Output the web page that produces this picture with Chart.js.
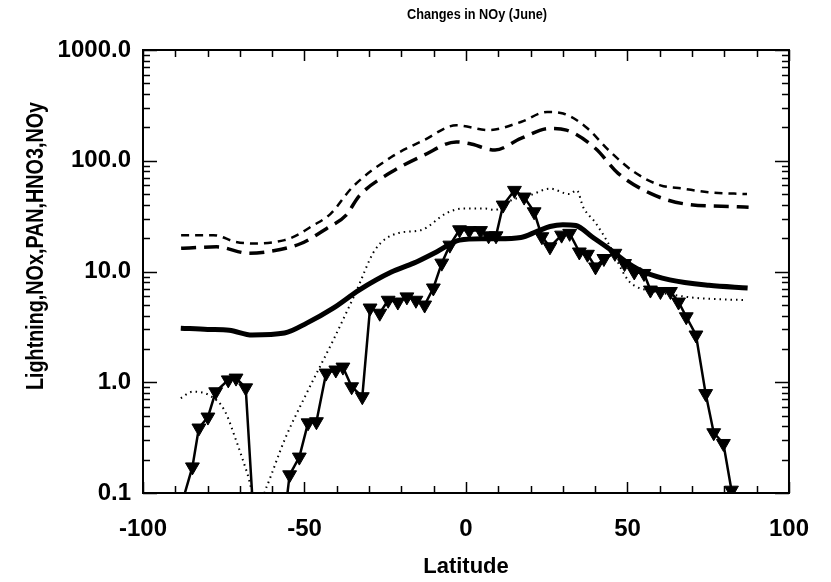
<!DOCTYPE html>
<html>
<head>
<meta charset="utf-8">
<script src="https://cdn.jsdelivr.net/npm/chart.js@4.4.1/dist/chart.umd.min.js"></script>
<style>
  html, body { margin: 0; padding: 0; background: #fff; }
  canvas { display: block; }
</style>
</head>
<body>
<canvas id="chart" width="831" height="582"></canvas>
<script>
// values (latitude, mixing ratio change)
const triLat = [-88.0, -84.7, -82.7, -79.9, -77.5, -73.6, -71.2, -68.2, -65.4, -62.5, -59.6, -57.4,
    -54.6, -51.6, -48.9, -46.3, -43.3, -40.3, -38.1, -35.4, -32.1, -29.7, -26.7, -24.1, -21.1,
    -18.3, -15.5, -12.8, -10.1, -7.5, -5.0, -2.0, 1.0, 4.5, 7.0, 9.3, 11.5, 15.0, 18.0, 21.1,
    23.5, 26.0, 29.6, 32.1, 35.1, 37.6, 40.1, 42.7, 46.1, 49.1, 52.1, 55.1, 57.1, 60.2, 63.3,
    65.8, 68.2, 71.2, 74.2, 76.7, 79.7, 82.2];
const triVal = [0.08, 0.172, 0.386, 0.485, 0.82, 1.05, 1.09, 0.89, 0.04, 0.02, 0.02, 0.03,
    0.146, 0.211, 0.43, 0.44, 1.21, 1.29, 1.37, 0.91, 0.74, 4.68, 4.2, 5.5, 5.3,
    5.9, 5.5, 4.98, 7.1, 11.9, 17.3, 23.8, 23.4, 23.4, 21, 21, 39.8, 54, 47, 34.6,
    20.6, 16.7, 21.3, 22.1, 15, 14.3, 11, 13.1, 14.6, 11.8, 9.9, 9.6, 6.8, 6.6, 6.6,
    5.3, 3.9, 2.67, 0.79, 0.35, 0.28, 0.106];

const solidLat = [-88.3, -80, -73.3, -66.2, -56.2, -49.3, -41.1, -33.1, -23.1, -16.2, -9.0, -2.0,
    4.9, 10, 17, 22, 26, 30, 34, 39, 44, 50, 55.1, 63.1, 75.2, 87.2];
const solidVal = [3.08, 3.0, 2.95, 2.67, 2.78, 3.42, 4.67, 6.8, 9.9, 11.9, 15.1, 19.2,
    19.8, 19.8, 20.3, 23, 25.5, 26.5, 26, 20.6, 16.3, 12, 9.9, 8.4, 7.5, 7.1];

const dotLat = [-88.3, -84.7, -79.7, -74.8, -71.2, -67.7, -64.5, -61.7, -56.2, -49.3, -41.1, -34.2,
    -28.2, -21.1, -14.0, -6.0, -1.1, 6, 9, 14, 20, 26, 32, 34.3, 36.3, 40.1, 44.1, 50.1, 53.1,
    56, 62, 70.5, 87];
const dotVal = [0.72, 0.82, 0.77, 0.56, 0.30, 0.15, 0.075, 0.114, 0.30, 0.80, 2.4, 6.4,
    15.6, 22.2, 23.6, 33.7, 37, 37, 36, 44, 49, 56, 50, 54, 38, 27.5, 17.9, 8.4, 7.2,
    6.8, 6.3, 5.8, 5.5];

const shortLat = [-88.2, -78.2, -71.2, -65.2, -56.2, -52, -48.1, -42, -35.1, -23.1, -13.1, -3.0,
    7.0, 17.0, 25.1, 30.1, 37.1, 44.1, 52.1, 60.2, 67.2, 75, 87];
const shortVal = [21.3, 21.3, 18.5, 17.9, 19.2, 21.5, 25.3, 33, 58, 108, 153, 209,
    189, 224, 276, 267, 202, 125, 79, 60, 56, 52, 50];

const longLat = [-88.2, -77.2, -67.2, -61.2, -51.1, -43.1, -37.1, -33.1, -23.1, -13.1, -3.0, 1.0,
    9.0, 17.0, 26.0, 31.1, 40.1, 47.1, 57.1, 67.2, 84.2, 87.5];
const longVal = [16.2, 16.7, 14.6, 15.1, 17.9, 24.5, 32.3, 48, 79, 112, 148, 143,
    125, 159, 196, 189, 129, 77, 50.7, 41, 38.4, 38];

const xTickValues = [-100, -50, 0, 50, 100];
const yTickValues = [0.1, 1, 10, 100, 1000];
const yTickLabels = ['0.1', '1.0', '10.0', '100.0', '1000.0'];

const FONT = "'Liberation Sans', Arial, sans-serif";

const pts = (xs, ys) => xs.map((x, i) => ({ x: x, y: ys[i] }));

// draw text squeezed to a given width (the original uses a narrow face)
function narrowText(ctx, text, cx, cy, width) {
    const w = ctx.measureText(text).width;
    ctx.save();
    ctx.translate(cx, cy);
    ctx.scale(Math.min(1, width / w), 1);
    ctx.fillText(text, 0, 0);
    ctx.restore();
}

// box round the plot with IDL-style inward ticks, plus title and y label
const frameTicks = {
    id: 'frameTicks',
    afterDraw(chart) {
        const { ctx, chartArea: a, scales: { x, y } } = chart;
        ctx.save();
        ctx.strokeStyle = '#000';
        ctx.lineWidth = 2;
        ctx.strokeRect(a.left, a.top, a.right - a.left, a.bottom - a.top);
        ctx.lineWidth = 1.5;
        ctx.beginPath();
        for (let v = -100; v <= 100; v += 10) {
            const px = Math.round(x.getPixelForValue(v)) + 0.5;
            const len = v % 50 === 0 ? 11 : 7;
            ctx.moveTo(px, a.bottom); ctx.lineTo(px, a.bottom - len);
            ctx.moveTo(px, a.top); ctx.lineTo(px, a.top + len);
        }
        for (let d = 0.1; d < 1001; d *= 10) {
            for (let m = 1; m <= 9; m++) {
                const v = d * m;
                if (v > 1000.5) break;
                const py = Math.round(y.getPixelForValue(v)) + 0.5;
                const len = m === 1 ? 14 : 7;
                ctx.moveTo(a.left, py); ctx.lineTo(a.left + len, py);
                ctx.moveTo(a.right, py); ctx.lineTo(a.right - len, py);
            }
        }
        ctx.stroke();

        ctx.fillStyle = '#000';
        ctx.textAlign = 'center';
        ctx.textBaseline = 'middle';
        ctx.font = 'bold 15px ' + FONT;
        narrowText(ctx, 'Changes in NOy (June)', 477, 15, 140);

        ctx.translate(36, 246);
        ctx.rotate(-Math.PI / 2);
        ctx.font = 'bold 24px ' + FONT;
        narrowText(ctx, 'Lightning,NOx,PAN,HNO3,NOy', 0, 0, 288);
        ctx.restore();
    }
};

const smooth = { tension: 0.4, cubicInterpolationMode: 'monotone', pointRadius: 0, fill: false, clip: 0 };

new Chart(document.getElementById('chart'), {
    type: 'line',
    data: {
        datasets: [
            { ...smooth, label: 'short dash', data: pts(shortLat, shortVal),
              borderColor: '#000', borderWidth: 2.5, borderDash: [8, 6] },
            { ...smooth, label: 'long dash', data: pts(longLat, longVal),
              borderColor: '#000', borderWidth: 3.5, borderDash: [15, 8] },
            { ...smooth, label: 'solid', data: pts(solidLat, solidVal),
              borderColor: '#000', borderWidth: 5 },
            { ...smooth, label: 'dotted', data: pts(dotLat, dotVal),
              borderColor: '#000', borderWidth: 2, borderDash: [1.5, 4] },
            {
                label: 'triangles',
                data: pts(triLat, triVal),
                borderColor: '#000',
                borderWidth: 2.5,
                tension: 0,
                fill: false,
                clip: 0,
                pointStyle: 'triangle',
                rotation: 180,
                pointRadius: 8,
                pointBackgroundColor: '#000',
                pointBorderColor: '#000',
                pointBorderWidth: 1
            }
        ]
    },
    options: {
        responsive: false,
        animation: false,
        events: [],
        layout: { padding: { top: 50, right: 23, left: 0, bottom: 0 } },
        plugins: {
            legend: { display: false },
            tooltip: { enabled: false }
        },
        scales: {
            x: {
                type: 'linear',
                min: -100,
                max: 100,
                afterFit: (scale) => { scale.height = 89; },
                afterBuildTicks: (scale) => { scale.ticks = xTickValues.map(v => ({ value: v })); },
                grid: { drawOnChartArea: false, drawTicks: false },
                border: { display: false },
                ticks: {
                    color: '#000',
                    padding: 22,
                    maxRotation: 0,
                    font: { family: FONT, size: 24, weight: 'bold' },
                    callback: (v) => String(v)
                },
                title: {
                    display: true,
                    text: 'Latitude',
                    color: '#000',
                    padding: { top: 0, bottom: 2 },
                    font: { family: FONT, size: 22, weight: 'bold' }
                }
            },
            y: {
                type: 'logarithmic',
                min: 0.1,
                max: 1000,
                afterFit: (scale) => { scale.width = 143; },
                afterBuildTicks: (scale) => { scale.ticks = yTickValues.map(v => ({ value: v })); },
                grid: { drawOnChartArea: false, drawTicks: false },
                border: { display: false },
                ticks: {
                    color: '#000',
                    padding: 12,
                    font: { family: FONT, size: 24, weight: 'bold' },
                    callback: (v) => yTickLabels[yTickValues.indexOf(v)]
                }
            }
        }
    },
    plugins: [frameTicks]
});
</script>
</body>
</html>
